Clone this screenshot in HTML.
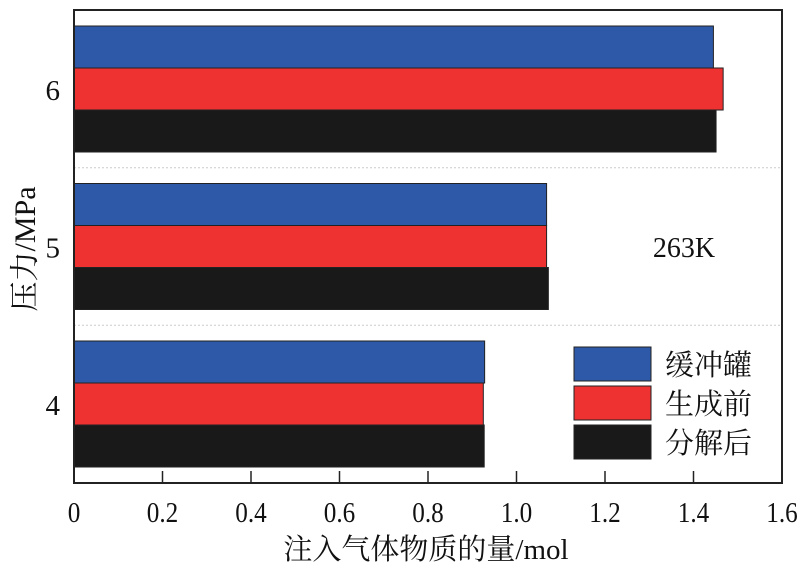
<!DOCTYPE html>
<html><head><meta charset="utf-8"><style>
body{margin:0;background:#fff;}
svg text{font-family:"Liberation Serif","Noto Serif CJK SC",serif;fill:#111;}
</style></head><body>
<svg id="chart" width="810" height="567" viewBox="0 0 810 567"></svg>
<script>
const categories=["4","5","6"];
const seriesNames=["缓冲罐","生成前","分解后"];
const bufferTank=[0.928,1.068,1.445];
const beforeFormation=[0.925,1.068,1.467];
const afterDecomposition=[0.927,1.072,1.451];
const xTicks=[0,0.2,0.4,0.6,0.8,1.0,1.2,1.4,1.6];
const xTickLabels=["0","0.2","0.4","0.6","0.8","1.0","1.2","1.4","1.6"];

const NS="http://www.w3.org/2000/svg";
const svg=document.getElementById('chart');
const L=74,R=782,T=10,B=483;
const x=v=>L+(R-L)*v/1.6;
const groupCenter=i=>404-i*157.5;
const barH=42;
function mk(tag,attrs,parent){const e=document.createElementNS(NS,tag);for(const k in attrs)e.setAttribute(k,attrs[k]);(parent||svg).appendChild(e);return e;}
const colors=["#2d59a8","#ee3232","#181918"];
const series=[bufferTank,beforeFormation,afterDecomposition];

[0,1].forEach(i=>{
  const y=(groupCenter(i)+groupCenter(i+1))/2;
  const l=mk('line',{x1:L,x2:R,y1:y,y2:y,stroke:'#ccc','stroke-width':1,'stroke-dasharray':'2,2'});
  
  
});

categories.forEach((c,i)=>{
  const gc=groupCenter(i);
  series.forEach((s,j)=>{
    const y=gc-1.5*barH+j*barH;
    const r=mk('rect',{x:L,y:y,width:x(s[i])-L,height:barH,fill:colors[j],stroke:'#222','stroke-width':1});
    
    
  });
  const t=mk('text',{x:L-14,y:gc+11,'text-anchor':'end','font-size':29});
  t.textContent=c;
  
  
});

const fr=mk('rect',{x:L,y:T,width:R-L,height:B-T,fill:'none',stroke:'#222','stroke-width':2});



xTicks.forEach((v,i)=>{
  const tk=mk('line',{x1:x(v),x2:x(v),y1:B,y2:B-12,stroke:'#222','stroke-width':1.5});
  
  
  const t=mk('text',{x:x(v),y:522,'text-anchor':'middle','font-size':28,transform:'translate('+x(v)+' 0) scale(0.9 1) translate('+(-x(v))+' 0)'});
  t.textContent=xTickLabels[i];
  
  
});

const xt=mk('text',{x:426,y:559,'text-anchor':'middle','font-size':29});
xt.textContent='注入气体物质的量/mol';



const yt=mk('text',{x:0,y:0,'text-anchor':'middle','font-size':30,transform:'translate(35,249) rotate(-90)'});
yt.textContent='压力/MPa';



const ann=mk('text',{x:684,y:257,'text-anchor':'middle','font-size':28});
ann.textContent='263K';



seriesNames.forEach((n,j)=>{
  const y=347+j*39;
  const r=mk('rect',{x:574,y:y,width:77,height:34,fill:colors[j],stroke:'#222','stroke-width':1});
  
  
  const t=mk('text',{x:665,y:y+28,'font-size':29});
  t.textContent=n;
  
  
});
</script>
</body></html>
